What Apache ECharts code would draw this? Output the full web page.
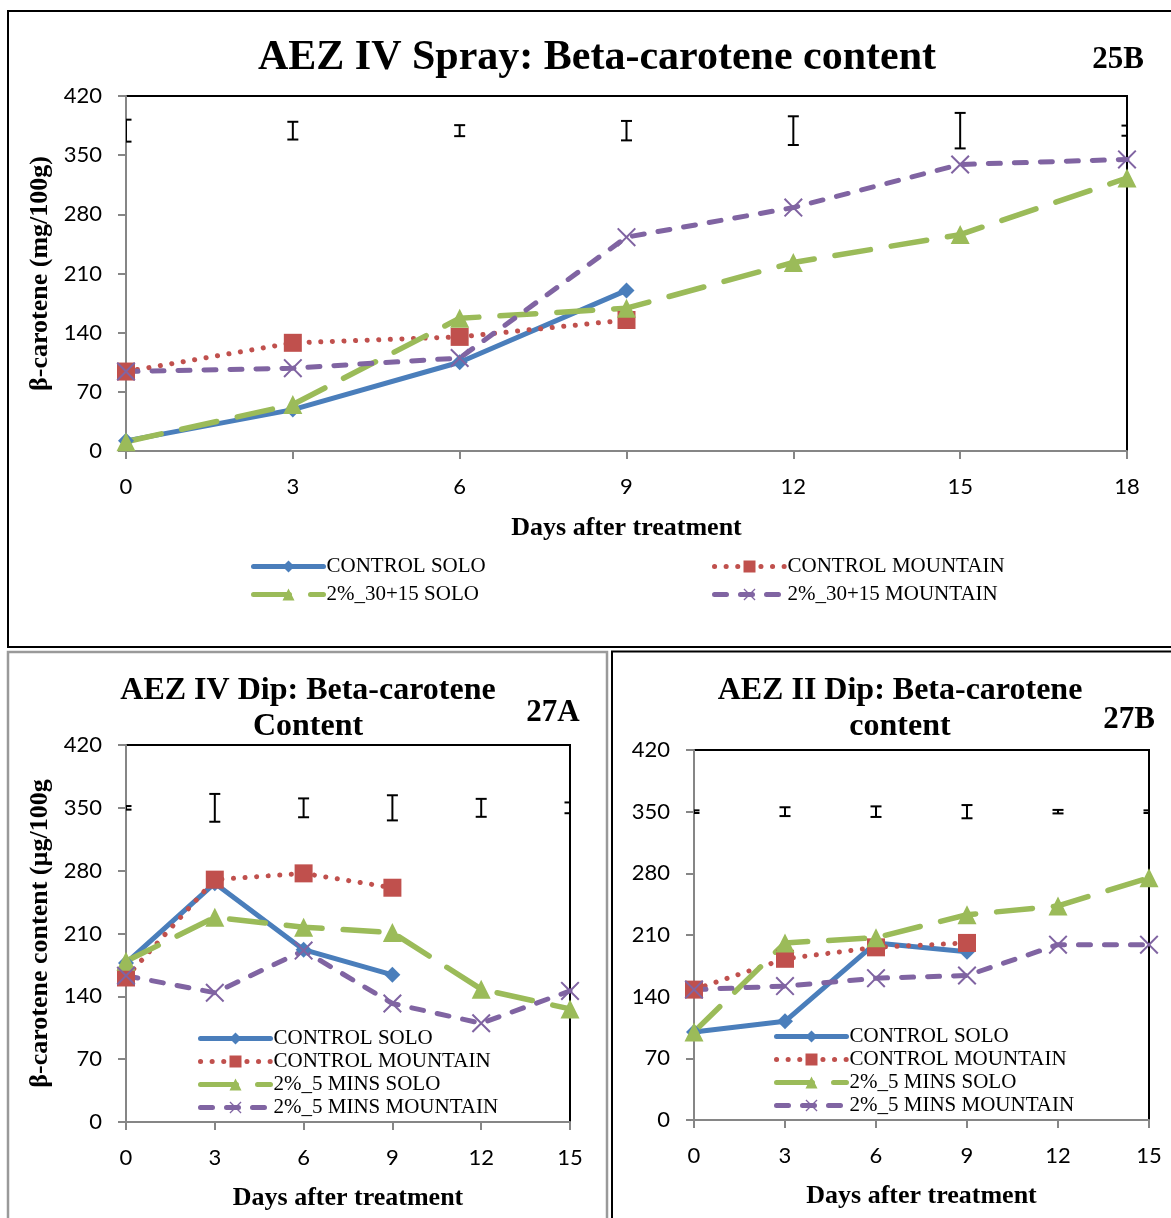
<!DOCTYPE html>
<html>
<head>
<meta charset="utf-8">
<script src="https://cdn.jsdelivr.net/npm/echarts@6/dist/echarts.min.js"></script>
<style>
  html, body { margin: 0; padding: 0; background: #fff; }
  body { width: 1171px; height: 1218px; position: relative; overflow: hidden; }
  .panel { position: absolute; }
</style>
</head>
<body>
<div id="p25B" class="panel" style="left:0;top:0;width:1171px;height:650px;"></div>
<div id="p27A" class="panel" style="left:0;top:650px;width:610px;height:568px;"></div>
<div id="p27B" class="panel" style="left:610px;top:650px;width:561px;height:568px;"></div>
<script>
// ---- Data: beta-carotene content by days after treatment ----
const days25B = [0, 3, 6, 9, 12, 15, 18];
const days27 = [0, 3, 6, 9, 12, 15];
const yTicks = [0, 70, 140, 210, 280, 350, 420];

// 25B: AEZ IV spray
const controlSolo25B = [12, 49, 105, 190];
const controlMountain25B = [94, 128, 135, 155];
const spraySolo25B = [11, 55, 157, 169, 223, 256, 323];
const sprayMountain25B = [94, 98, 110, 253, 288, 339, 345];
const errMid25B = 379;
const errHalf25B = [13, 10.5, 6.5, 11.5, 17, 21, 6];

// 27A: AEZ IV dip
const controlSolo27A = [177, 266, 192, 164];
const controlMountain27A = [161, 270, 277, 261];
const dipSolo27A = [179, 228, 217, 211, 148, 126];
const dipMountain27A = [163, 144, 191, 132, 110, 146];
const errMid27A = 350;
const errHalf27A = [2, 15.5, 10.5, 14, 10, 6];

// 27B: AEZ II dip
const controlSolo27B = [100, 112, 201, 191];
const controlMountain27B = [148, 183, 196, 201];
const dipSolo27B = [100, 201, 207, 233, 243, 275];
const dipMountain27B = [148, 152, 161, 164, 199, 199];
const errMid27B = 350;
const errHalf27B = [1.5, 5, 6, 7.5, 2, 1.5];

// ---- Styling helpers ----
const SERIF = '"Liberation Serif", "Times New Roman", serif';
const SANS = 'Lato, "Open Sans", sans-serif';
const BLUE = '#4a7ebb', RED = '#c0504d', GREEN = '#9bbb59', PURPLE = '#8064a2';
const X_MARK = 'path://M0,1.5 L1.5,0 L10,8.5 L18.5,0 L20,1.5 L11.5,10 L20,18.5 L18.5,20 L10,11.5 L1.5,20 L0,18.5 L8.5,10 Z';

function pairs(xs, ys) { return ys.map((v, i) => [xs[i], v]); }

function lineSeries(name, xs, ys, kind) {
  const s = {
    name: name, type: 'line', data: pairs(xs, ys), clip: false, z: 3,
    lineStyle: { width: 5, cap: 'round', join: 'round' },
    emphasis: { disabled: true }
  };
  if (kind === 'cs') {
    Object.assign(s, { color: BLUE, symbol: 'diamond', symbolSize: 16 });
    s.lineStyle.type = 'solid'; s.lineStyle.color = BLUE;
  } else if (kind === 'cm') {
    Object.assign(s, { color: RED, symbol: 'rect', symbolSize: 18 });
    s.lineStyle.type = [0.1, 11.5]; s.lineStyle.color = RED; s.lineStyle.width = 5;
  } else if (kind === 'ts') {
    Object.assign(s, { color: GREEN, symbol: 'triangle', symbolSize: 19 });
    s.lineStyle.type = [36, 21]; s.lineStyle.color = GREEN; s.lineStyle.width = 5.5;
  } else {
    Object.assign(s, { color: PURPLE, symbol: X_MARK, symbolSize: 19 });
    s.lineStyle.type = [12, 14]; s.lineStyle.color = PURPLE;
  }
  s.itemStyle = { color: s.color };
  return s;
}

function errSeries(xs, mid, halves) {
  return {
    type: 'custom', clip: true, z: 4, silent: true,
    data: halves.map((h, i) => [xs[i], mid - h, mid + h]),
    encode: { x: 0, y: [1, 2] },
    renderItem: function (params, api) {
      const x = api.value(0);
      const lo = api.coord([x, api.value(1)]);
      const hi = api.coord([x, api.value(2)]);
      const hw = 5.5, st = { stroke: '#000', lineWidth: 2 };
      return {
        type: 'group', children: [
          { type: 'line', shape: { x1: lo[0], y1: lo[1], x2: hi[0], y2: hi[1] }, style: st },
          { type: 'line', shape: { x1: lo[0] - hw, y1: lo[1], x2: lo[0] + hw, y2: lo[1] }, style: st },
          { type: 'line', shape: { x1: hi[0] - hw, y1: hi[1], x2: hi[0] + hw, y2: hi[1] }, style: st }
        ]
      };
    }
  };
}

function xAxisCfg(maxDay, gap) {
  return {
    type: 'value', min: 0, max: maxDay, interval: 3,
    name: 'Days after treatment', nameLocation: 'middle', nameGap: gap,
    nameTextStyle: { fontFamily: SERIF, fontWeight: 'bold', fontSize: 26, color: '#000' },
    axisLine: { show: true, onZero: false, lineStyle: { color: '#868686', width: 2 } },
    axisTick: { show: true, inside: false, length: 8, lineStyle: { color: '#868686', width: 2 } },
    axisLabel: { fontFamily: SANS, fontSize: 22, color: '#000', margin: 25 },
    splitLine: { show: false }
  };
}

function yAxisCfg(name) {
  return {
    type: 'value', min: yTicks[0], max: yTicks[yTicks.length - 1], interval: yTicks[1] - yTicks[0],
    name: name, nameLocation: 'middle', nameGap: 68, nameRotate: 90,
    nameTextStyle: { fontFamily: SERIF, fontWeight: 'bold', fontSize: 26, color: '#000' },
    axisLine: { show: true, onZero: false, lineStyle: { color: '#868686', width: 2 } },
    axisTick: { show: true, inside: false, length: 8, lineStyle: { color: '#868686', width: 2 } },
    axisLabel: { fontFamily: SANS, fontSize: 22, color: '#000', margin: 24 },
    splitLine: { show: false }
  };
}

function legendCfg(names, left, top, gap) {
  return {
    data: names, orient: 'vertical', left: left, top: top,
    itemWidth: 70, itemHeight: 15, itemGap: gap, padding: 0,
    selectedMode: false,
    lineStyle: { width: 5 },
    textStyle: { fontFamily: SERIF, fontSize: 21, color: '#000', padding: [0, 0, 0, -2] }
  };
}

function text(x, y, str, size) {
  return {
    type: 'text', x: x, y: y, silent: true,
    style: { text: str, font: 'bold ' + size + 'px ' + SERIF, fill: '#000', align: 'center', verticalAlign: 'middle' }
  };
}

function frame(x, y, w, h, color, lw) {
  return { type: 'rect', silent: true, z: -1, shape: { x: x, y: y, width: w, height: h },
           style: { fill: 'none', stroke: color, lineWidth: lw } };
}

const gridCommon = { show: true, borderColor: '#000', borderWidth: 2, backgroundColor: 'transparent', containLabel: false };

// ---- 25B: AEZ IV Spray ----
echarts.init(document.getElementById('p25B'), null, { renderer: 'canvas' }).setOption({
  animation: false,
  graphic: [
    frame(8, 11, 1250, 636, '#000', 2),
    text(597, 58, 'AEZ IV Spray: Beta-carotene content', 42),
    text(1118, 60, '25B', 31)
  ],
  grid: Object.assign({ left: 126, top: 96, width: 1001, height: 355 }, gridCommon),
  xAxis: xAxisCfg(18, 64),
  yAxis: yAxisCfg('β-carotene (mg/100g)'),
  legend: [
    legendCfg(['CONTROL SOLO', '2%_30+15 SOLO'], 251, 556, 7),
    legendCfg(['CONTROL MOUNTAIN', '2%_30+15 MOUNTAIN'], 712, 556, 7)
  ],
  series: [
    lineSeries('CONTROL SOLO', days25B, controlSolo25B, 'cs'),
    lineSeries('CONTROL MOUNTAIN', days25B, controlMountain25B, 'cm'),
    lineSeries('2%_30+15 SOLO', days25B, spraySolo25B, 'ts'),
    lineSeries('2%_30+15 MOUNTAIN', days25B, sprayMountain25B, 'tm'),
    errSeries(days25B, errMid25B, errHalf25B)
  ]
});

// ---- 27A: AEZ IV Dip ----
echarts.init(document.getElementById('p27A'), null, { renderer: 'canvas' }).setOption({
  animation: false,
  graphic: [
    frame(8, 2, 599, 700, '#9a9a9a', 2.5),
    text(308, 41, 'AEZ IV Dip: Beta-carotene', 32),
    text(308, 77, 'Content', 32),
    text(553, 63, '27A', 31)
  ],
  grid: Object.assign({ left: 126, top: 95, width: 444, height: 377 }, gridCommon),
  xAxis: xAxisCfg(15, 63),
  yAxis: yAxisCfg('β-carotene content (µg/100g'),
  legend: [legendCfg(['CONTROL SOLO', 'CONTROL MOUNTAIN', '2%_5 MINS SOLO', '2%_5 MINS MOUNTAIN'], 198, 378, 2)],
  series: [
    lineSeries('CONTROL SOLO', days27, controlSolo27A, 'cs'),
    lineSeries('CONTROL MOUNTAIN', days27, controlMountain27A, 'cm'),
    lineSeries('2%_5 MINS SOLO', days27, dipSolo27A, 'ts'),
    lineSeries('2%_5 MINS MOUNTAIN', days27, dipMountain27A, 'tm'),
    errSeries(days27, errMid27A, errHalf27A)
  ]
});

// ---- 27B: AEZ II Dip ----
echarts.init(document.getElementById('p27B'), null, { renderer: 'canvas' }).setOption({
  animation: false,
  graphic: [
    frame(2, 1.5, 700, 700, '#000', 2),
    text(290, 41, 'AEZ II Dip: Beta-carotene', 32),
    text(290, 77, 'content', 32),
    text(519, 70, '27B', 31)
  ],
  grid: Object.assign({ left: 84, top: 100, width: 455, height: 370 }, gridCommon),
  xAxis: xAxisCfg(15, 63),
  yAxis: yAxisCfg(''),
  legend: [legendCfg(['CONTROL SOLO', 'CONTROL MOUNTAIN', '2%_5 MINS SOLO', '2%_5 MINS MOUNTAIN'], 164, 376, 2)],
  series: [
    lineSeries('CONTROL SOLO', days27, controlSolo27B, 'cs'),
    lineSeries('CONTROL MOUNTAIN', days27, controlMountain27B, 'cm'),
    lineSeries('2%_5 MINS SOLO', days27, dipSolo27B, 'ts'),
    lineSeries('2%_5 MINS MOUNTAIN', days27, dipMountain27B, 'tm'),
    errSeries(days27, errMid27B, errHalf27B)
  ]
});
</script>
</body>
</html>
